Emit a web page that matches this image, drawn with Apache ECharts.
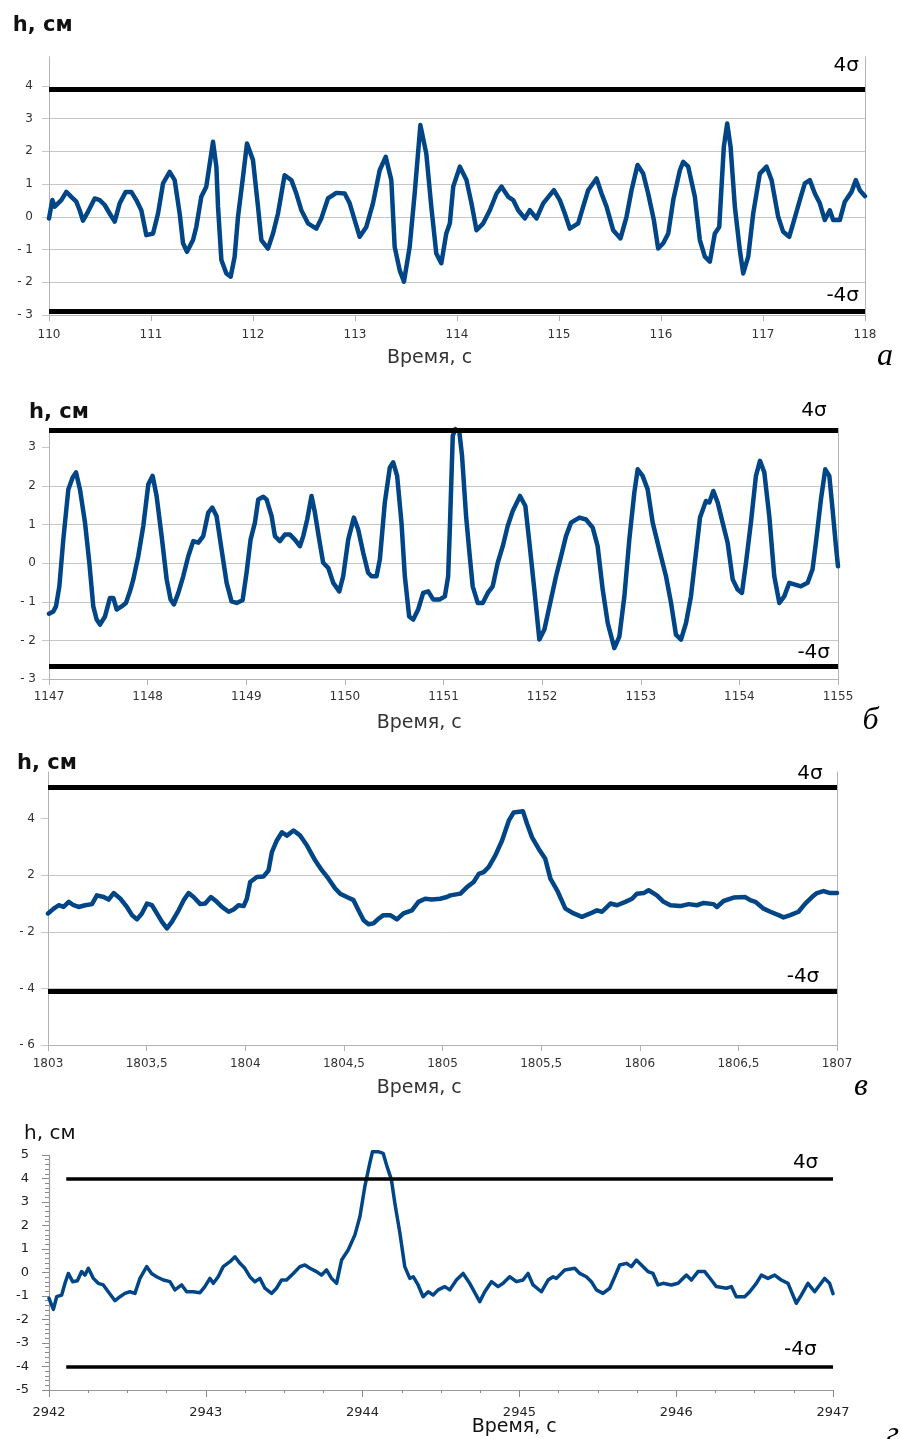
<!DOCTYPE html>
<html>
<head>
<meta charset="utf-8">
<title>h, см — Время, с</title>
<script src="https://cdn.jsdelivr.net/npm/echarts@6/dist/echarts.min.js"></script>
<style>
  html, body { margin: 0; padding: 0; background: #ffffff; }
  #chart { width: 901px; height: 1439px; }
</style>
</head>
<body>
<div id="chart"></div>
<script>
// ---------- Panel а: 110–118 s ----------
const timeA = [
  110.000,110.033,110.056,110.088,110.121,110.170,110.219,110.268,110.301,110.333,
  110.382,110.448,110.497,110.546,110.595,110.644,110.693,110.752,110.807,110.856,
  110.905,110.954,111.020,111.069,111.118,111.183,111.232,111.281,111.314,111.353,
  111.412,111.444,111.493,111.542,111.608,111.641,111.657,111.690,111.739,111.781,
  111.820,111.853,111.902,111.941,112.000,112.049,112.082,112.147,112.196,112.245,
  112.310,112.376,112.425,112.474,112.539,112.621,112.670,112.735,112.817,112.899,
  112.948,112.997,113.046,113.111,113.176,113.242,113.301,113.356,113.389,113.438,
  113.480,113.536,113.585,113.641,113.699,113.748,113.797,113.846,113.895,113.930,
  113.963,114.028,114.093,114.142,114.191,114.257,114.322,114.388,114.437,114.502,
  114.551,114.600,114.665,114.714,114.780,114.845,114.910,114.950,115.008,115.057,
  115.106,115.188,115.237,115.286,115.368,115.417,115.466,115.531,115.603,115.662,
  115.711,115.770,115.825,115.874,115.930,115.972,116.022,116.071,116.120,116.185,
  116.218,116.267,116.332,116.381,116.430,116.479,116.528,116.571,116.616,116.649,
  116.682,116.724,116.773,116.806,116.855,116.904,116.969,117.035,117.084,117.149,
  117.198,117.257,117.296,117.361,117.410,117.459,117.508,117.557,117.606,117.655,
  117.688,117.753,117.802,117.868,117.910,117.949,118.000
];
const heightA = [
  -0.05,0.51,0.31,0.41,0.51,0.76,0.61,0.46,0.20,-0.12,
  0.15,0.56,0.51,0.36,0.10,-0.15,0.41,0.76,0.76,0.51,
  0.20,-0.56,-0.51,0.10,1.02,1.37,1.12,0.10,-0.81,-1.07,
  -0.71,-0.31,0.61,0.92,2.29,1.53,0.31,-1.32,-1.73,-1.83,
  -1.22,0.00,1.22,2.24,1.73,0.31,-0.71,-0.97,-0.51,0.10,
  1.27,1.12,0.71,0.20,-0.20,-0.36,-0.05,0.56,0.73,0.71,
  0.41,-0.10,-0.61,-0.31,0.41,1.42,1.83,1.12,-0.92,-1.63,
  -1.98,-0.92,0.71,2.80,1.93,0.31,-1.12,-1.42,-0.51,-0.20,
  0.92,1.53,1.12,0.41,-0.41,-0.20,0.20,0.71,0.92,0.61,
  0.51,0.20,-0.05,0.20,-0.05,0.41,0.66,0.81,0.51,0.10,
  -0.36,-0.20,0.31,0.81,1.17,0.71,0.31,-0.41,-0.66,0.00,
  0.81,1.58,1.32,0.71,-0.10,-0.97,-0.81,-0.51,0.51,1.42,
  1.68,1.53,0.61,-0.71,-1.22,-1.37,-0.51,-0.31,2.14,2.85,
  2.14,0.31,-1.02,-1.73,-1.22,0.10,1.32,1.53,1.12,0.00,
  -0.46,-0.61,-0.20,0.51,1.02,1.12,0.71,0.41,-0.10,0.20,
  -0.10,-0.10,0.46,0.76,1.12,0.81,0.63
];
const sigmaA = [3.9, -2.9];
const hTicksA = [-3, -2, -1, 0, 1, 2, 3, 4];

// ---------- Panel б: 1147–1155 s ----------
const timeB = [
  1147.000,1147.044,1147.071,1147.105,1147.145,1147.196,1147.240,1147.274,1147.314,1147.365,
  1147.409,1147.449,1147.483,1147.517,1147.568,1147.618,1147.652,1147.686,1147.736,1147.780,
  1147.821,1147.855,1147.905,1147.956,1148.007,1148.051,1148.091,1148.142,1148.193,1148.233,
  1148.267,1148.311,1148.361,1148.412,1148.463,1148.514,1148.564,1148.615,1148.655,1148.699,
  1148.750,1148.801,1148.851,1148.902,1148.963,1149.003,1149.044,1149.088,1149.122,1149.172,
  1149.206,1149.257,1149.291,1149.341,1149.392,1149.443,1149.493,1149.544,1149.578,1149.618,
  1149.662,1149.696,1149.740,1149.780,1149.831,1149.882,1149.943,1149.983,1150.034,1150.091,
  1150.135,1150.186,1150.236,1150.270,1150.321,1150.355,1150.405,1150.456,1150.490,1150.530,
  1150.574,1150.608,1150.652,1150.693,1150.743,1150.794,1150.845,1150.895,1150.963,1151.014,
  1151.047,1151.064,1151.094,1151.121,1151.161,1151.188,1151.229,1151.263,1151.296,1151.347,
  1151.398,1151.449,1151.499,1151.550,1151.601,1151.651,1151.702,1151.776,1151.830,1151.871,
  1151.921,1151.972,1152.023,1152.074,1152.141,1152.192,1152.242,1152.293,1152.378,1152.445,
  1152.513,1152.563,1152.614,1152.665,1152.732,1152.783,1152.834,1152.884,1152.935,1152.969,
  1153.019,1153.070,1153.121,1153.188,1153.256,1153.307,1153.357,1153.408,1153.459,1153.509,
  1153.560,1153.601,1153.661,1153.695,1153.736,1153.780,1153.830,1153.881,1153.932,1153.982,
  1154.026,1154.067,1154.117,1154.168,1154.209,1154.253,1154.303,1154.354,1154.405,1154.455,
  1154.506,1154.557,1154.624,1154.692,1154.742,1154.776,1154.827,1154.871,1154.912,1154.945,
  1154.979,1155.000
];
const heightB = [
  -1.31,-1.25,-1.12,-0.60,0.61,1.91,2.22,2.35,1.91,1.05,
  0.01,-1.12,-1.46,-1.59,-1.38,-0.90,-0.90,-1.20,-1.12,-1.03,
  -0.73,-0.42,0.18,0.96,2.04,2.26,1.74,0.70,-0.42,-0.94,
  -1.07,-0.77,-0.34,0.18,0.57,0.53,0.70,1.31,1.44,1.22,
  0.35,-0.51,-0.99,-1.03,-0.96,-0.25,0.61,1.05,1.65,1.72,
  1.65,1.22,0.70,0.57,0.74,0.74,0.61,0.44,0.70,1.13,
  1.74,1.31,0.61,0.01,-0.12,-0.51,-0.73,-0.34,0.61,1.18,
  0.87,0.27,-0.25,-0.34,-0.34,0.10,1.57,2.48,2.61,2.26,
  1.05,-0.34,-1.38,-1.46,-1.20,-0.77,-0.73,-0.94,-0.94,-0.86,
  -0.34,0.87,3.30,3.47,3.39,2.78,1.22,0.27,-0.60,-1.03,
  -1.03,-0.77,-0.60,0.01,0.44,0.96,1.35,1.74,1.48,0.53,
  -0.68,-1.98,-1.72,-1.12,-0.34,0.18,0.70,1.05,1.18,1.13,
  0.92,0.44,-0.68,-1.55,-2.20,-1.90,-0.86,0.61,1.83,2.43,
  2.26,1.91,1.05,0.35,-0.34,-1.03,-1.85,-1.98,-1.55,-0.86,
  0.27,1.18,1.61,1.57,1.87,1.57,1.05,0.53,-0.42,-0.68,
  -0.77,0.01,1.05,2.26,2.65,2.35,1.22,-0.34,-1.03,-0.86,
  -0.51,-0.55,-0.60,-0.51,-0.16,0.53,1.65,2.43,2.26,1.39,
  0.44,-0.08
];
const sigmaB = [3.45, -2.68];
const hTicksB = [-3, -2, -1, 0, 1, 2, 3];

// ---------- Panel в: 1803–1807 s ----------
const timeV = [
  1803.000,1803.029,1803.054,1803.079,1803.105,1803.130,1803.155,1803.189,1803.223,1803.248,
  1803.282,1803.307,1803.333,1803.367,1803.400,1803.426,1803.451,1803.476,1803.502,1803.527,
  1803.552,1803.578,1803.603,1803.628,1803.662,1803.688,1803.713,1803.738,1803.772,1803.797,
  1803.826,1803.856,1803.882,1803.916,1803.941,1803.966,1803.992,1804.008,1804.025,1804.059,
  1804.093,1804.118,1804.135,1804.160,1804.186,1804.211,1804.245,1804.279,1804.313,1804.355,
  1804.389,1804.422,1804.456,1804.481,1804.515,1804.549,1804.574,1804.600,1804.625,1804.650,
  1804.676,1804.701,1804.735,1804.769,1804.802,1804.845,1804.878,1804.912,1804.946,1804.988,
  1805.022,1805.040,1805.091,1805.124,1805.158,1805.184,1805.209,1805.234,1805.268,1805.302,
  1805.336,1805.361,1805.408,1805.429,1805.454,1805.488,1805.521,1805.547,1805.581,1805.623,
  1805.665,1805.707,1805.749,1805.783,1805.809,1805.851,1805.885,1805.927,1805.961,1805.986,
  1806.020,1806.045,1806.087,1806.121,1806.155,1806.206,1806.248,1806.290,1806.324,1806.374,
  1806.391,1806.425,1806.476,1806.535,1806.560,1806.586,1806.628,1806.662,1806.704,1806.729,
  1806.763,1806.805,1806.839,1806.873,1806.898,1806.932,1806.966,1807.000
];
const heightV = [
  0.65,0.82,0.94,0.88,1.06,0.94,0.88,0.94,0.98,1.29,
  1.23,1.14,1.37,1.17,0.88,0.59,0.44,0.65,1.00,0.94,
  0.65,0.35,0.12,0.35,0.76,1.12,1.37,1.23,0.98,1.00,
  1.23,1.06,0.88,0.71,0.79,0.94,0.91,1.17,1.76,1.94,
  1.96,2.17,2.82,3.23,3.52,3.40,3.58,3.40,3.05,2.52,
  2.17,1.88,1.53,1.35,1.23,1.12,0.76,0.41,0.27,0.30,
  0.47,0.59,0.59,0.44,0.65,0.76,1.06,1.17,1.14,1.17,
  1.23,1.29,1.35,1.58,1.76,2.05,2.11,2.29,2.70,3.23,
  3.93,4.22,4.26,3.81,3.34,2.93,2.58,1.88,1.47,0.82,
  0.65,0.53,0.65,0.76,0.71,1.00,0.94,1.06,1.17,1.35,
  1.37,1.47,1.29,1.06,0.94,0.91,0.98,0.94,1.02,0.98,
  0.88,1.09,1.21,1.23,1.12,1.06,0.82,0.71,0.59,0.51,
  0.59,0.71,1.00,1.23,1.37,1.44,1.37,1.37
];
const sigmaV = [5.1, -2.1];
// h-axis ticks of this panel and the texts printed beside them
const hTicksV = [-4, -2, 0, 2, 4];
const hTickTextsV = ['- 6', '- 4', '- 2', '2', '4'];

// ---------- Panel г: 2942–2947 s ----------
const timeG = [
  2942.000,2942.028,2942.049,2942.081,2942.102,2942.123,2942.151,2942.181,2942.208,2942.229,
  2942.251,2942.283,2942.314,2942.346,2942.378,2942.421,2942.453,2942.484,2942.516,2942.548,
  2942.580,2942.623,2942.654,2942.686,2942.729,2942.771,2942.803,2942.846,2942.878,2942.920,
  2942.963,2942.994,2943.026,2943.048,2943.079,2943.111,2943.154,2943.186,2943.218,2943.249,
  2943.281,2943.313,2943.345,2943.377,2943.419,2943.451,2943.483,2943.515,2943.558,2943.600,
  2943.632,2943.664,2943.706,2943.738,2943.770,2943.802,2943.834,2943.866,2943.908,2943.951,
  2943.983,2944.014,2944.046,2944.063,2944.099,2944.131,2944.153,2944.184,2944.206,2944.238,
  2944.269,2944.301,2944.323,2944.354,2944.386,2944.418,2944.450,2944.482,2944.524,2944.556,
  2944.598,2944.641,2944.683,2944.747,2944.779,2944.822,2944.864,2944.896,2944.938,2944.981,
  2945.023,2945.055,2945.087,2945.140,2945.183,2945.215,2945.236,2945.289,2945.353,2945.385,
  2945.427,2945.459,2945.491,2945.533,2945.576,2945.608,2945.640,2945.682,2945.714,2945.746,
  2945.778,2945.820,2945.852,2945.884,2945.916,2945.969,2946.012,2946.065,2946.097,2946.139,
  2946.182,2946.224,2946.256,2946.320,2946.352,2946.383,2946.437,2946.469,2946.511,2946.543,
  2946.585,2946.628,2946.670,2946.713,2946.766,2946.798,2946.840,2946.883,2946.915,2946.947,
  2946.978,2947.000
];
const heightG = [
  -1.10,-1.57,-1.03,-0.96,-0.46,-0.04,-0.39,-0.35,0.04,-0.11,
  0.18,-0.25,-0.46,-0.53,-0.82,-1.20,-1.03,-0.89,-0.82,-0.89,
  -0.25,0.25,-0.04,-0.18,-0.32,-0.39,-0.74,-0.53,-0.82,-0.82,
  -0.86,-0.60,-0.25,-0.46,-0.18,0.25,0.46,0.67,0.39,0.18,
  -0.18,-0.39,-0.25,-0.67,-0.89,-0.67,-0.32,-0.32,-0.04,0.25,
  0.32,0.18,0.04,-0.11,0.11,-0.25,-0.46,0.53,0.96,1.60,
  2.38,3.65,4.65,5.14,5.14,5.07,4.57,3.94,2.94,1.67,
  0.25,-0.25,-0.18,-0.53,-1.03,-0.82,-0.96,-0.74,-0.60,-0.74,
  -0.32,-0.04,-0.46,-1.24,-0.82,-0.39,-0.60,-0.46,-0.18,-0.39,
  -0.32,-0.04,-0.53,-0.82,-0.32,-0.18,-0.25,0.11,0.18,-0.04,
  -0.18,-0.39,-0.74,-0.89,-0.67,-0.18,0.32,0.39,0.25,0.53,
  0.32,0.04,-0.04,-0.53,-0.46,-0.53,-0.46,-0.11,-0.32,0.04,
  0.04,-0.32,-0.60,-0.67,-0.60,-1.03,-1.03,-0.82,-0.46,-0.11,
  -0.25,-0.11,-0.32,-0.46,-1.31,-0.96,-0.46,-0.82,-0.53,-0.25,
  -0.46,-0.90
];
const sigmaG = [4, -4];
const sigmaStartG = 2942.11;

// ---------- layout & styles ----------
const WAVE = '#004586';
const GRID_GREY = '#c6c6c6';
const AXIS_GREY = '#b3b3b3';
const TXT = '#333333';
const FONT = 'DejaVu Sans';

const grids = [
  { left: 49, top: 57,   width: 816, height: 258 },
  { left: 49, top: 428,  width: 789, height: 251 },
  { left: 48, top: 772,  width: 789, height: 273 },
  { left: 49, top: 1155, width: 784, height: 235 }
];

const plain = v => String(v);
const minusSpaced = v => (v < 0 ? '- ' + Math.abs(v) : String(v));
const commaDecimal = v => String(v).replace('.', ',');

function officeX(gi, min, max, interval, margin, fmt) {
  return {
    type: 'value', gridIndex: gi, min, max, interval,
    axisLine: { show: true, onZero: false, lineStyle: { color: AXIS_GREY, width: 1 } },
    axisTick: { show: true, length: 6, lineStyle: { color: AXIS_GREY } },
    axisLabel: { color: TXT, fontFamily: FONT, fontSize: 12, margin, showMinLabel: true, showMaxLabel: true,
                 formatter: fmt || plain },
    splitLine: { show: false }
  };
}
function officeY(gi, min, max, interval, ticks, margin, fmt) {
  return {
    type: 'value', gridIndex: gi, min, max, interval,
    axisLine: { show: true, onZero: false, lineStyle: { color: AXIS_GREY, width: 1 } },
    axisTick: { show: true, length: 7, customValues: ticks, lineStyle: { color: GRID_GREY } },
    axisLabel: { color: TXT, fontFamily: FONT, fontSize: 12, margin, customValues: ticks, formatter: fmt },
    splitLine: { show: true, showMaxLine: false, lineStyle: { color: GRID_GREY, width: 1 } }
  };
}
function rightEdge(gi, min, max) {
  return {
    type: 'value', gridIndex: gi, min, max, position: 'right',
    axisLine: { show: true, onZero: false, lineStyle: { color: AXIS_GREY, width: 1 } },
    axisTick: { show: false }, axisLabel: { show: false }, splitLine: { show: false }
  };
}

function waveSeries(xi, yi, times, heights, width, sigma, xFrom, xTo, sigmaWidth) {
  return {
    type: 'line', xAxisIndex: xi, yAxisIndex: yi,
    data: times.map((t, i) => [t, heights[i]]),
    symbol: 'none', showSymbol: false, clip: false,
    lineStyle: { color: WAVE, width, join: 'round', cap: 'round' },
    itemStyle: { color: WAVE },
    emphasis: { disabled: true },
    markLine: {
      silent: true, symbol: ['none', 'none'], animation: false,
      label: { show: false },
      lineStyle: { color: '#000000', width: sigmaWidth, type: 'solid' },
      emphasis: { disabled: true },
      data: sigma.map(s => [{ coord: [xFrom, s] }, { coord: [xTo, s] }])
    }
  };
}

function txt(x, y, text, opts) {
  return {
    type: 'text', x, y, silent: true,
    style: Object.assign({
      text, fill: '#000000', fontFamily: FONT, fontSize: 20,
      align: 'left', verticalAlign: 'middle'
    }, opts || {})
  };
}
const italic = { fontFamily: 'Liberation Serif', fontStyle: 'italic', fontSize: 32, align: 'center', fill: '#000' };
const hLabel = { fontWeight: 'bold', fontSize: 21, fill: '#111' };
const tLabel = { fontSize: 19, fill: TXT };

const option = {
  backgroundColor: '#ffffff',
  animation: false,
  grid: grids.map(g => Object.assign({ containLabel: false }, g)),
  xAxis: [
    officeX(0, 110, 118, 1, 14),
    officeX(1, 1147, 1155, 1, 12),
    officeX(2, 1803, 1807, 0.5, 13, commaDecimal),
    {
      type: 'value', gridIndex: 3, min: 2942, max: 2947, interval: 1,
      axisLine: { show: true, onZero: false, lineStyle: { color: '#9a9a9a', width: 1.2 } },
      axisTick: { show: true, length: 7, lineStyle: { color: '#8a8a8a' } },
      minorTick: { show: true, splitNumber: 4, length: 3, lineStyle: { color: '#8a8a8a' } },
      axisLabel: { color: '#222', fontFamily: FONT, fontSize: 13, margin: 16, showMinLabel: true, showMaxLabel: true,
                   formatter: plain },
      splitLine: { show: false }, minorSplitLine: { show: false }
    }
  ],
  yAxis: [
    officeY(0, -3, 4.88, 1, hTicksA, 16, minusSpaced),
    rightEdge(0, -3, 4.88),
    officeY(1, -3, 3.5, 1, hTicksB, 13, minusSpaced),
    rightEdge(1, -3, 3.5),
    officeY(2, -4, 5.65, 2, hTicksV, 13, v => hTickTextsV[hTicksV.indexOf(v)] || ''),
    rightEdge(2, -4, 5.65),
    {
      type: 'value', gridIndex: 3, min: -5, max: 5, interval: 1,
      axisLine: { show: true, onZero: false, lineStyle: { color: '#9a9a9a', width: 1.2 } },
      axisTick: { show: true, length: 7, lineStyle: { color: '#8a8a8a' } },
      minorTick: { show: true, splitNumber: 5, length: 4, lineStyle: { color: '#8a8a8a' } },
      axisLabel: { color: '#222', fontFamily: FONT, fontSize: 13, margin: 20, formatter: plain },
      splitLine: { show: false }, minorSplitLine: { show: false }
    }
  ],
  series: [
    waveSeries(0, 0, timeA, heightA, 4.5, sigmaA, 110, 118, 5),
    waveSeries(1, 2, timeB, heightB, 4.5, sigmaB, 1147, 1155, 5),
    waveSeries(2, 4, timeV, heightV, 4.5, sigmaV, 1803, 1807, 5),
    waveSeries(3, 6, timeG, heightG, 3.5, sigmaG, sigmaStartG, 2947, 3.5)
  ],
  graphic: [
    // panel а
    txt(12.7, 26, 'h, см', hLabel),
    txt(859, 65.8, '4σ', { align: 'right' }),
    txt(859, 295.8, '-4σ', { align: 'right' }),
    txt(387, 357.8, 'Время, с', tLabel),
    txt(885, 356.5, 'а', italic),
    // panel б
    txt(29, 412.7, 'h, см', hLabel),
    txt(826.7, 410.4, '4σ', { align: 'right' }),
    txt(830, 652.4, '-4σ', { align: 'right' }),
    txt(376.7, 723.1, 'Время, с', tLabel),
    txt(870.5, 721, 'б', italic),
    // panel в
    txt(17, 763.4, 'h, см', hLabel),
    txt(822.7, 773.8, '4σ', { align: 'right' }),
    txt(819.3, 976.4, '-4σ', { align: 'right' }),
    txt(376.7, 1087.8, 'Время, с', tLabel),
    txt(861, 1086.7, 'в', italic),
    // panel г
    txt(24, 1133.8, 'h, см', { fontSize: 20, fill: '#111' }),
    txt(818.3, 1162.4, '4σ', { align: 'right' }),
    txt(816.7, 1349.8, '-4σ', { align: 'right' }),
    txt(471.7, 1427, 'Время, с', { fontSize: 19, fill: '#111' }),
    txt(892.7, 1434.7, 'г', italic)
  ]
};

const chart = echarts.init(document.getElementById('chart'), null, { renderer: 'canvas', width: 901, height: 1439 });
chart.setOption(option);
</script>
</body>
</html>
